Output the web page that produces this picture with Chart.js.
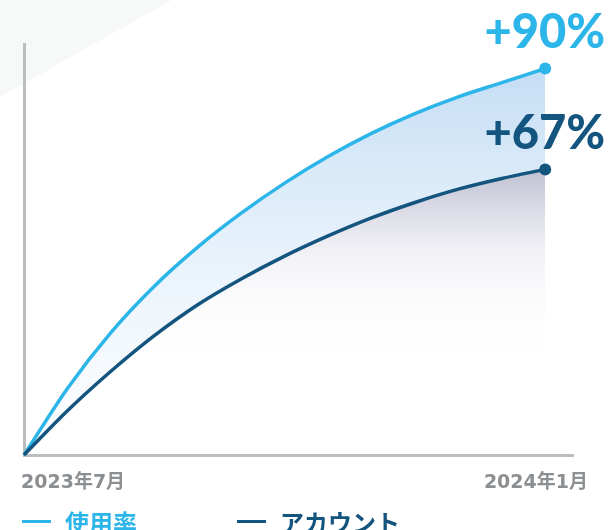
<!DOCTYPE html>
<html>
<head>
<meta charset="utf-8">
<script src="https://cdn.jsdelivr.net/npm/chart.js@4.4.0/dist/chart.umd.min.js"></script>
<style>
  html, body { margin: 0; padding: 0; background: #fff; }
  #wrap { position: relative; width: 610px; height: 530px; overflow: hidden; }
  #chart { position: absolute; left: 0; top: 0; }
  .item { position: absolute; top: 504px; height: 34px; display: flex; align-items: center; font-family: "Noto Sans CJK JP", sans-serif; font-weight: 700; font-size: 24px; }
  .swatch { width: 29px; height: 3px; margin-right: 14px; }
</style>
</head>
<body>
<div id="wrap">
  <canvas id="chart" width="610" height="530"></canvas>
  <div id="legend"></div>
</div>
<script>
// half-month steps after 2023年7月 (0) up to 2024年1月 (6)
const monthOffsets = [0, 0.5, 1, 1.5, 2, 2.5, 3, 3.5, 4, 4.5, 5, 5.5, 6];
const usageRate = [0, 15.5, 28.5, 39.3, 48.4, 56.3, 63.3, 69.5, 74.9, 79.5, 83.4, 86.7, 90];
const accounts = [0, 10.3, 19.5, 27.8, 35, 41, 46.3, 51, 55.2, 58.8, 61.9, 64.4, 66.5];
const endLabels = ["+90%", "+67%"];
const seriesNames = ["使用率", "アカウント"];
const seriesColors = ["#2bb5e8", "#14557f"];
const tickLabels = ["2023年7月", "2024年1月"];
const legendLeft = [22, 237];

const xMax = 6.32;
const yMax = 95.7;

const toPoints = vals => vals.map((v, i) => ({ x: monthOffsets[i], y: v }));
const lastOnly = vals => vals.map((v, i) => (i === vals.length - 1 ? 6 : 0));

// soft grey corner wedge behind the chart
const backdrop = {
  id: "backdrop",
  beforeDraw(chart) {
    const c = chart.ctx;
    c.save();
    c.fillStyle = "#f7f8f8";
    c.beginPath();
    c.moveTo(0, 0);
    c.lineTo(172, 0);
    c.lineTo(0, 97);
    c.closePath();
    c.fill();
    c.restore();
  }
};

// end-of-line percentage labels + the two date labels under the axis
const labels = {
  id: "labels",
  afterDraw(chart) {
    const c = chart.ctx;
    c.save();
    chart.data.datasets.forEach((ds, i) => {
      const meta = chart.getDatasetMeta(i);
      const pt = meta.data[meta.data.length - 1];
      c.font = "900 47px Lato, sans-serif";
      c.fillStyle = seriesColors[i];
      c.textAlign = "right";
      c.textBaseline = "alphabetic";
      c.fillText(endLabels[i], pt.x + 60, pt.y - 20);
    });
    const xs = chart.scales.x;
    c.font = "700 19px 'DejaVu Sans', 'Noto Sans CJK JP', sans-serif";
    c.fillStyle = "#8c8f92";
    c.textBaseline = "middle";
    c.textAlign = "left";
    c.fillText(tickLabels[0], xs.getPixelForValue(0) - 3, 483);
    c.textAlign = "right";
    c.fillText(tickLabels[1], xs.getPixelForValue(xMax) + 15, 483);
    c.restore();
  }
};

const ctx = document.getElementById("chart").getContext("2d");

const blueFill = ctx.createLinearGradient(0, 60, 0, 400);
blueFill.addColorStop(0, "rgba(190, 218, 244, 0.95)");
blueFill.addColorStop(1, "rgba(236, 245, 252, 0.35)");

const navyFill = ctx.createLinearGradient(0, 170, 0, 360);
navyFill.addColorStop(0, "rgba(95, 100, 140, 0.4)");
navyFill.addColorStop(0.45, "rgba(150, 152, 185, 0.12)");
navyFill.addColorStop(1, "rgba(255, 255, 255, 0)");

new Chart(ctx, {
  type: "line",
  data: {
    datasets: [
      {
        label: seriesNames[0],
        data: toPoints(usageRate),
        borderColor: seriesColors[0],
        backgroundColor: blueFill,
        pointBackgroundColor: seriesColors[0],
        pointBorderWidth: 0,
        pointRadius: lastOnly(usageRate),
        borderWidth: 3.5,
        cubicInterpolationMode: "monotone",
        fill: "+1",
        clip: false,
        order: 1
      },
      {
        label: seriesNames[1],
        data: toPoints(accounts),
        borderColor: seriesColors[1],
        backgroundColor: navyFill,
        pointBackgroundColor: seriesColors[1],
        pointBorderWidth: 0,
        pointRadius: lastOnly(accounts),
        borderWidth: 3.5,
        cubicInterpolationMode: "monotone",
        fill: "origin",
        clip: false,
        order: 0
      }
    ]
  },
  options: {
    responsive: false,
    animation: false,
    layout: { padding: { left: 24, right: 37, top: 44, bottom: 75 } },
    plugins: { legend: { display: false }, tooltip: { enabled: false } },
    scales: {
      x: {
        type: "linear",
        min: 0,
        max: xMax,
        ticks: { display: false },
        grid: { display: false, drawTicks: false },
        border: { color: "#b9bec1", width: 3 }
      },
      y: {
        min: 0,
        max: yMax,
        ticks: { display: false },
        grid: { display: false, drawTicks: false },
        border: { color: "#b9bec1", width: 3 }
      }
    }
  },
  plugins: [backdrop, labels]
});

const legend = document.getElementById("legend");
seriesNames.forEach((name, i) => {
  const item = document.createElement("div");
  item.className = "item";
  item.style.left = legendLeft[i] + "px";
  item.style.color = seriesColors[i];
  item.innerHTML = `<span class="swatch" style="background:${seriesColors[i]}"></span>${name}`;
  legend.appendChild(item);
});
</script>
</body>
</html>
